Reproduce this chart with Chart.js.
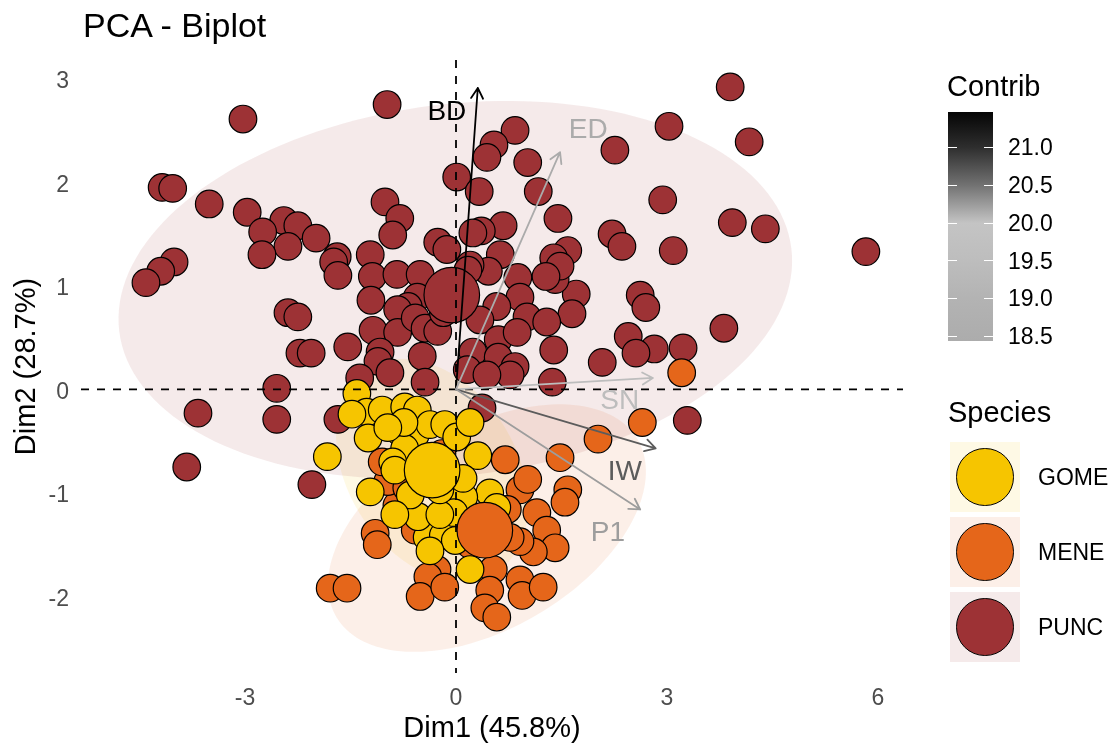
<!DOCTYPE html>
<html>
<head>
<meta charset="utf-8">
<script src="https://cdn.jsdelivr.net/npm/chart.js@4"></script>
<style>
  body { margin: 0; background: #fff; }
  #wrap { position: relative; width: 1117px; height: 749px; font-family: "Liberation Sans", Arial, sans-serif; overflow: hidden; }
  #c { position: absolute; left: 0; top: 0; }
  .t { position: absolute; white-space: nowrap; line-height: 1; }
</style>
</head>
<body>
<div id="wrap">
  <canvas id="c" width="1117" height="749"></canvas>
  <div class="t" style="left:83px;top:8px;font-size:34px;color:#000;">PCA - Biplot</div>
</div>
<script>
// ---------------- DATA ----------------
const species = ['GOME', 'MENE', 'PUNC'];

const puncX = [3.90,3.03,4.17,2.26,2.94,3.93,4.40,5.83,2.22,2.36,3.09,1.45,1.59,1.39,3.81,3.23,2.82,2.45,2.56,2.08,2.62,2.70,1.71,1.65,1.39,1.41,
  -0.98,0.84,0.54,0.44,1.02,0.01,0.33,1.17,-1.01,-0.80,0.67,0.36,0.63,0.46,0.20,1.48,1.28,0.88,0.91,1.01,1.29,0.58,0.34,0.60,0.87,0.24,0.60,0.84,
  -3.03,-4.18,-4.03,-3.51,-2.97,-2.45,-2.25,-2.75,-1.99,-2.39,-2.76,-1.69,-4.01,-4.20,-4.41,-0.90,-1.74,-1.68,-1.22,-1.19,-0.84,-1.21,-0.51,-0.26,-0.13,
  -2.39,-2.25,-0.55,-0.68,-0.83,-1.18,-0.83,-0.58,-0.44,-0.26,-0.18,-1.54,-2.22,-2.06,-1.08,-0.48,0.24,0.17,-1.11,-0.94,-1.37,-0.44,0.16,
  -1.68,-2.05,0.77,0.44,1.37,0.37,3.29,-3.67,-2.55,-2.55,-3.83];
const puncY = [2.92,2.54,2.39,2.31,1.83,1.61,1.55,1.33,1.50,1.38,1.34,1.65,1.34,1.27,0.59,0.40,0.39,0.51,0.35,0.26,0.91,0.79,0.92,0.73,0.38,1.06,
  2.75,2.50,2.36,2.24,2.19,2.05,1.91,1.91,1.81,1.65,1.58,1.53,1.30,1.14,1.20,1.19,1.09,1.08,0.89,0.70,0.65,0.80,0.67,0.48,0.55,0.36,0.31,0.22,
  2.61,1.95,1.94,1.79,1.71,1.63,1.58,1.52,1.46,1.38,1.30,1.28,1.23,1.14,1.03,1.49,1.23,1.10,1.30,1.09,1.11,0.86,1.11,1.42,1.35,
  0.74,0.70,0.89,0.80,0.77,0.57,0.55,0.69,0.59,0.56,0.74,0.41,0.35,0.35,0.36,0.32,1.51,1.15,0.27,0.16,0.11,0.07,0.19,
  -0.29,-0.92,0.14,0.14,0.07,-0.18,-0.30,-0.23,0.01,-0.29,-0.75];

const meneX = [3.21,2.65,2.02,1.48,0.70,1.59,1.55,0.91,1.15,1.29,1.41,1.10,0.91,0.77,0.53,0.48,0.91,0.94,1.24,0.41,0.58,
  -0.27,-0.40,-0.51,-0.16,-1.79,-1.55,-0.84,-0.58,-1.15,-1.12,-0.97,-1.05,0.73,1.02,0.20,-0.70,-0.20];
const meneY = [0.16,-0.32,-0.48,-0.66,-0.68,-0.97,-1.09,-0.97,-1.19,-1.36,-1.53,-1.57,-1.47,-1.43,-1.74,-1.94,-1.84,-1.99,-1.91,-2.11,-2.20,
  -1.74,-1.81,-2.00,-1.91,-1.92,-1.92,-1.12,-1.36,-1.39,-1.50,-0.89,-0.70,-1.16,-0.87,-1.50,-0.95,-0.62];

const gomeX = [-1.41,-1.27,-1.48,-1.05,-0.73,-0.55,-1.25,-0.80,-0.58,-0.73,-0.37,-0.16,0.01,0.20,-1.83,-0.90,0.31,-1.22,
  -0.41,-0.18,0.20,0.48,0.58,-0.54,0.11,-0.03,-0.74,-0.97,-0.23,-0.65,-0.23,-0.87,-0.01,-0.37,-0.87,0.10];
const gomeY = [-0.04,-0.22,-0.24,-0.20,-0.17,-0.20,-0.47,-0.41,-0.44,-0.57,-0.34,-0.34,-0.46,-0.32,-0.65,-0.70,-0.64,-0.99,
  -1.43,-1.41,-1.74,-1.00,-1.14,-1.23,-1.04,-1.19,-0.32,-0.37,-1.21,-1.02,-0.97,-1.21,-1.46,-1.56,-0.78,-0.86];

// group centres (GOME, MENE, PUNC)
const centroidX = [-0.34, 0.41, -0.06];
const centroidY = [-0.78, -1.36, 0.91];

// concentration ellipses (GOME, MENE, PUNC): centre and two half-axis vectors, data units
const ellCX = [-0.34, 0.44, -0.01];
const ellCY = [-0.78, -1.34, 0.96];
const ellUX = [0.92, 2.14, 4.78];
const ellUY = [-0.98, 0.86, 0.40];
const ellVX = [1.01, 0.73, -0.32];
const ellVY = [0.44, -0.83, 1.78];

// variables
const varNames = ['BD', 'ED', 'SN', 'IW', 'P1'];
const varX = [0.31, 1.48, 2.80, 2.84, 2.62];
const varY = [2.91, 2.29, 0.11, -0.57, -1.16];
const varLabelX = [-0.13, 1.88, 2.33, 2.40, 2.16];
const varLabelY = [2.68, 2.50, -0.12, -0.80, -1.39];

const xTicks = [-3, 0, 3, 6];
const yTicks = [-2, -1, 0, 1, 2, 3];
const contribTicks = [21.0, 20.5, 20.0, 19.5, 19.0, 18.5];

// ---------------- STYLE ----------------
const speciesColors = ['#F6C500', '#E5661A', '#9D3235'];
const varColors = ['#000000', '#ababab', '#bdbdbd', '#5c5c5c', '#9d9d9d'];
const FONT = '"Liberation Sans", Arial, sans-serif';

function rgba(hex, a) {
  const n = parseInt(hex.slice(1), 16);
  return `rgba(${(n >> 16) & 255},${(n >> 8) & 255},${n & 255},${a})`;
}
function pts(xs, ys) { return xs.map((x, i) => ({ x: x, y: ys[i] })); }

const extras = {
  id: 'extras',
  beforeDatasetsDraw(chart) {
    const ctx = chart.ctx, xs = chart.scales.x, ys = chart.scales.y;
    ctx.save();
    for (let k = 0; k < species.length; k++) {
      ctx.beginPath();
      const N = 160;
      for (let i = 0; i <= N; i++) {
        const t = i / N * Math.PI * 2;
        const dx = ellCX[k] + ellUX[k] * Math.cos(t) + ellVX[k] * Math.sin(t);
        const dy = ellCY[k] + ellUY[k] * Math.cos(t) + ellVY[k] * Math.sin(t);
        const px = xs.getPixelForValue(dx), py = ys.getPixelForValue(dy);
        if (i === 0) ctx.moveTo(px, py); else ctx.lineTo(px, py);
      }
      ctx.closePath();
      ctx.fillStyle = rgba(speciesColors[k], 0.1);
      ctx.fill();
    }
    ctx.restore();
  },
  afterDatasetsDraw(chart) {
    const ctx = chart.ctx, xs = chart.scales.x, ys = chart.scales.y, a = chart.chartArea;
    const ox = xs.getPixelForValue(0), oy = ys.getPixelForValue(0);
    ctx.save();
    // reference lines
    ctx.strokeStyle = '#000';
    ctx.lineWidth = 1.8;
    ctx.setLineDash([8, 8]);
    ctx.beginPath();
    ctx.moveTo(a.left, oy); ctx.lineTo(a.right, oy);
    ctx.moveTo(ox, a.top); ctx.lineTo(ox, a.bottom);
    ctx.stroke();
    ctx.setLineDash([]);
    // arrows
    ctx.lineCap = 'round';
    ctx.lineJoin = 'round';
    for (let i = 0; i < varNames.length; i++) {
      const tx = xs.getPixelForValue(varX[i]), ty = ys.getPixelForValue(varY[i]);
      const ang = Math.atan2(ty - oy, tx - ox);
      const hl = 12, ha = Math.PI / 6;
      ctx.strokeStyle = varColors[i];
      ctx.lineWidth = 1.8;
      ctx.beginPath();
      ctx.moveTo(ox, oy); ctx.lineTo(tx, ty);
      ctx.moveTo(tx - hl * Math.cos(ang - ha), ty - hl * Math.sin(ang - ha));
      ctx.lineTo(tx, ty);
      ctx.lineTo(tx - hl * Math.cos(ang + ha), ty - hl * Math.sin(ang + ha));
      ctx.stroke();
      ctx.fillStyle = varColors[i];
      ctx.font = '28px ' + FONT;
      ctx.textAlign = 'center';
      ctx.textBaseline = 'middle';
      ctx.fillText(varNames[i], xs.getPixelForValue(varLabelX[i]), ys.getPixelForValue(varLabelY[i]));
    }
    ctx.restore();
  }
};

const groupData = [pts(gomeX, gomeY), pts(meneX, meneY), pts(puncX, puncY)];
const datasets = species.map((s, k) => ({
  label: s,
  data: groupData[k],
  backgroundColor: speciesColors[k],
  borderColor: '#000',
  borderWidth: 1.2,
  pointRadius: 13.8,
  pointHoverRadius: 13.8,
  order: k + 1
}));
datasets.push({
  label: 'centres',
  data: pts(centroidX, centroidY),
  backgroundColor: speciesColors,
  borderColor: '#000',
  borderWidth: 1.2,
  pointRadius: 27.8,
  pointHoverRadius: 27.8,
  order: 0
});

new Chart(document.getElementById('c'), {
  type: 'scatter',
  data: { datasets: datasets },
  plugins: [extras],
  options: {
    responsive: false,
    animation: false,
    devicePixelRatio: 1,
    events: [],
    layout: { padding: { left: 0, right: 214, top: 60, bottom: 0 } },
    plugins: { legend: { display: false }, tooltip: { enabled: false }, title: { display: false } },
    scales: {
      x: {
        type: 'linear', min: -5.334, max: 6.358,
        afterBuildTicks: s => { s.ticks = xTicks.map(v => ({ value: v })); },
        afterFit: s => { s.height = 76; },
        grid: { display: false, drawTicks: false },
        border: { display: false },
        ticks: { color: '#4D4D4D', font: { family: FONT, size: 23 }, padding: 12, maxRotation: 0 },
        title: { display: true, text: 'Dim1 (45.8%)', color: '#000', font: { family: FONT, size: 29 }, padding: { top: 0, bottom: 3 } }
      },
      y: {
        type: 'linear', min: -2.739, max: 3.18,
        afterBuildTicks: s => { s.ticks = yTicks.map(v => ({ value: v })); },
        afterFit: s => { s.width = 81; },
        grid: { display: false, drawTicks: false },
        border: { display: false },
        ticks: { color: '#4D4D4D', font: { family: FONT, size: 23 }, padding: 12, labelOffset: 3 },
        title: { display: true, text: 'Dim2 (28.7%)', color: '#000', font: { family: FONT, size: 29 }, padding: { top: 10, bottom: 0 } }
      }
    }
  }
});

// ---------------- LEGENDS (HTML text) ----------------
const wrap = document.getElementById('wrap');
function el(style, text) {
  const d = document.createElement('div');
  d.className = 't';
  d.setAttribute('style', style);
  if (text !== undefined) d.textContent = text;
  wrap.appendChild(d);
  return d;
}
// Contrib colour bar
const barTop = 112, barH = 229, barL = 948, barW = 45, vTop = 21.47, vBot = 18.44;
el(`left:947px;top:72px;font-size:29px;color:#000;`, 'Contrib');
el(`left:${barL}px;top:${barTop}px;width:${barW}px;height:${barH}px;` +
   `background:linear-gradient(to bottom,#050505 0%,#2e2e2e 15.5%,#727272 32%,#c4c4c4 48.5%,#bdbdbd 65%,#b3b3b3 81.5%,#acacac 100%);`);
contribTicks.forEach(v => {
  const yy = barTop + (vTop - v) / (vTop - vBot) * barH;
  el(`left:${barL}px;top:${(yy - 0.5).toFixed(1)}px;width:9px;height:1px;background:#fff;`);
  el(`left:${barL + barW - 9}px;top:${(yy - 0.5).toFixed(1)}px;width:9px;height:1px;background:#fff;`);
  el(`left:1008px;top:${(yy - 11.3).toFixed(1)}px;font-size:23px;color:#000;`, v.toFixed(1));
});
// Species keys
el(`left:948px;top:398px;font-size:29px;color:#000;`, 'Species');
species.forEach((s, k) => {
  const top = 442 + k * 75;
  el(`left:950px;top:${top}px;width:70px;height:70px;background:${rgba(speciesColors[k], 0.1)};`);
  el(`left:${985 - 28.7}px;top:${top + 35 - 28.7}px;width:57.4px;height:57.4px;box-sizing:border-box;border-radius:50%;border:1.2px solid #000;background:${speciesColors[k]};`);
  el(`left:1038px;top:${top + 35 - 11.3}px;font-size:23px;color:#000;`, s);
});
</script>
</body>
</html>
